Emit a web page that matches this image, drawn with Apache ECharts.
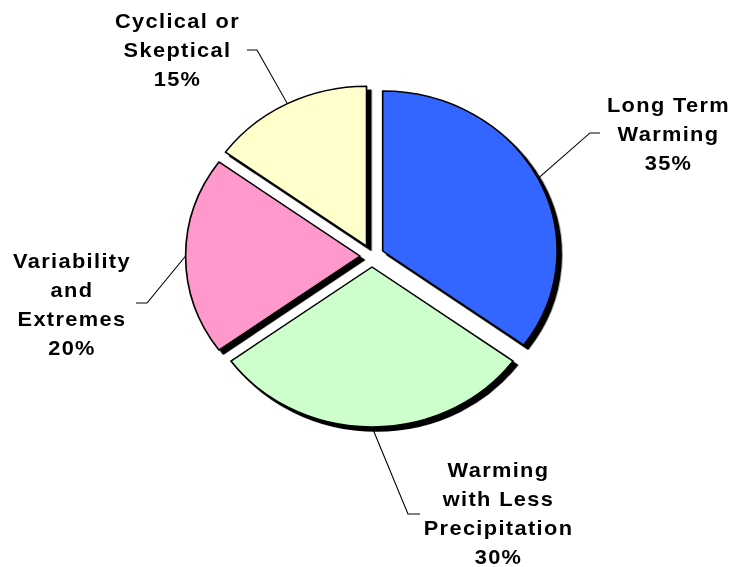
<!DOCTYPE html>
<html>
<head>
<meta charset="utf-8">
<script src="https://cdn.jsdelivr.net/npm/echarts@6/dist/echarts.min.js"></script>
<style>
  html, body { margin: 0; padding: 0; background: #fff; overflow: hidden; }
  /* the pie is drawn slightly wider than tall */
  #chart { width: 735px; height: 567px; transform: scaleX(1.09); transform-origin: 372px 0; }
  #chart text { letter-spacing: 1.25px !important; }
</style>
</head>
<body>
<div id="chart"></div>
<script>
// Slice names (with their line breaks), shares in percent and fills
const categories = ['Long Term\nWarming', 'Warming\nwith Less\nPrecipitation', 'Variability\nand\nExtremes', 'Cyclical or\nSkeptical'];
const shares = [35, 30, 20, 15];
const sliceColors = ['#3366FF', '#CCFFCC', '#FF99CC', '#FFFFCC'];

// Geometry (page pixels); x is stretched by STRETCH around ORIGIN_X
const STRETCH = 1.09, ORIGIN_X = 372;
const CENTER = [372, 256], RADIUS = 160, EXPLODE = 11;

// Label block centres and leader-line bends/ends, in page pixels
const labelBoxes = [
  { center: [668.5, 134], elbow: [590, 133], end: [600, 133] },
  { center: [498.5, 513.5], elbow: [408, 514], end: [420, 514] },
  { center: [72, 304], elbow: [147, 303], end: [136, 303] },
  { center: [177.5, 50], elbow: [257, 50], end: [247, 50] }
];

// page x -> x inside the stretched container
const pre = x => ORIGIN_X + (x - ORIGIN_X) / STRETCH;

const total = shares.reduce((a, b) => a + b, 0);
let acc = 0;
const series = shares.map((v, i) => {
  // each slice gets its own pie, pushed out along its middle angle
  const mid = (acc + v / 2) / total * 2 * Math.PI;
  acc += v;
  const c = [CENTER[0] + Math.sin(mid) * EXPLODE, CENTER[1] - Math.cos(mid) * EXPLODE];
  return {
    type: 'pie',
    center: c,
    radius: RADIUS,
    startAngle: 90,
    clockwise: true,
    avoidLabelOverlap: false,
    silent: true,
    animation: false,
    emphasis: { disabled: true },
    label: {
      position: 'outside',
      color: '#000',
      fontFamily: '"Liberation Sans", Arial, sans-serif',
      fontWeight: 'bold',
      fontSize: 20,
      lineHeight: 29,
      align: 'center',
      formatter: p => p.name + '\n' + Math.round(p.percent) + '%'
    },
    labelLine: { length: 10, length2: 10, smooth: false, lineStyle: { color: '#000', width: 1 } },
    data: categories.map((name, j) => ({
      name,
      value: shares[j],
      itemStyle: j === i
        ? { color: sliceColors[j], borderColor: '#000', borderWidth: 1.5,
            shadowColor: '#000', shadowOffsetX: 4, shadowOffsetY: 4, shadowBlur: 0 }
        : { opacity: 0, borderWidth: 0 },
      label: { show: j === i },
      labelLine: { show: j === i }
    })),
    labelLayout: p => {
      if (p.dataIndex !== i) return {};
      const b = labelBoxes[i];
      let start = p.labelLinePoints && p.labelLinePoints[0];
      if (!start) {
        start = [c[0] + Math.sin(mid) * RADIUS, c[1] - Math.cos(mid) * RADIUS];
      }
      return {
        x: pre(b.center[0]),
        y: b.center[1],
        align: 'center',
        verticalAlign: 'middle',
        labelLinePoints: [start, [pre(b.elbow[0]), b.elbow[1]], [pre(b.end[0]), b.end[1]]]
      };
    }
  };
});

const chart = echarts.init(document.getElementById('chart'), null, { renderer: 'svg' });
chart.setOption({
  backgroundColor: '#fff',
  animation: false,
  series
});
</script>
</body>
</html>
